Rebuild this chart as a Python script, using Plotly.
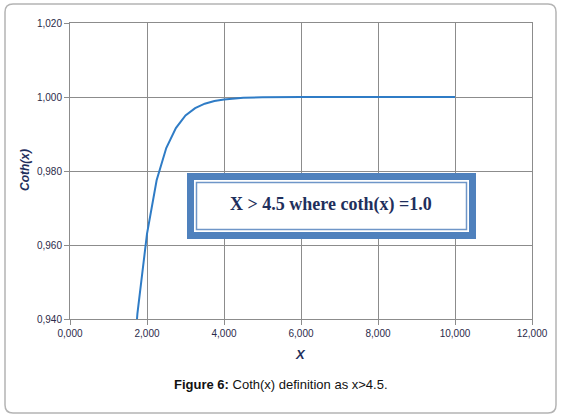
import plotly.graph_objects as go

# data
x_vals = [1.5, 1.75, 2.0, 2.25, 2.5, 2.75, 3.0, 3.25, 3.5, 3.75, 4.0, 4.5, 5.0, 5.5, 6.0, 7.0, 8.0, 9.0, 10.0]
y_vals = [0.905, 0.9414, 0.9630, 0.9775, 0.9862, 0.9916, 0.9950, 0.9970, 0.9982, 0.9989, 0.9993, 0.9998, 0.9999, 1.0, 1.0, 1.0, 1.0, 1.0, 1.0]
x_ticks = [0, 2, 4, 6, 8, 10, 12]
x_ticktext = ["0,000", "2,000", "4,000", "6,000", "8,000", "10,000", "12,000"]
y_ticks = [0.94, 0.96, 0.98, 1.00, 1.02]
y_ticktext = ["0,940", "0,960", "0,980", "1,000", "1,020"]

W, H = 561, 419
L, R, T, B = 70, 532, 23, 319


def px(x):
    return (x - L) / (R - L)


def py(y):
    return (B - y) / (B - T)


fig = go.Figure()
fig.add_trace(go.Scatter(x=x_vals, y=y_vals, mode="lines",
                         line=dict(color="#2f7cc6", width=2), showlegend=False))

tickfont = dict(family="Liberation Sans Narrow, Arial Narrow, sans-serif", size=10, color="#2b2a4a")
fig.update_xaxes(range=[0, 12], tickvals=x_ticks, ticktext=x_ticktext, showgrid=True,
                 gridcolor="#8c8c8c", gridwidth=1, showline=True, linecolor="#8c8c8c", mirror=True,
                 ticks="outside", ticklen=5, tickcolor="#8c8c8c", tickfont=tickfont,
                 zeroline=False)
fig.update_yaxes(range=[0.94, 1.02], tickvals=y_ticks, ticktext=y_ticktext, showgrid=True,
                 gridcolor="#8c8c8c", gridwidth=1, showline=True, linecolor="#8c8c8c", mirror=True,
                 ticks="outside", ticklen=5, tickcolor="#8c8c8c", tickfont=tickfont,
                 zeroline=False)

shapes = []
# outer rounded frame
x0, y0, x1, y1, r = 5, 4, 556, 413, 8
path = (f"M {px(x0 + r)} {py(y0)} L {px(x1 - r)} {py(y0)} Q {px(x1)} {py(y0)} {px(x1)} {py(y0 + r)} "
        f"L {px(x1)} {py(y1 - r)} Q {px(x1)} {py(y1)} {px(x1 - r)} {py(y1)} "
        f"L {px(x0 + r)} {py(y1)} Q {px(x0)} {py(y1)} {px(x0)} {py(y1 - r)} "
        f"L {px(x0)} {py(y0 + r)} Q {px(x0)} {py(y0)} {px(x0 + r)} {py(y0)} Z")
shapes.append(dict(type="path", xref="paper", yref="paper", path=path,
                   line=dict(color="#b4b4b4", width=1.5), layer="below"))
# annotation box
bx0, by0, bx1, by1 = 187, 173, 476, 239
shapes.append(dict(type="rect", xref="paper", yref="paper", x0=px(bx0), x1=px(bx1), y0=py(by0), y1=py(by1),
                   fillcolor="#4f81bd", line=dict(width=0), layer="above"))
shapes.append(dict(type="rect", xref="paper", yref="paper", x0=px(bx0 + 7), x1=px(bx1 - 7), y0=py(by0 + 7), y1=py(by1 - 7),
                   fillcolor="#ffffff", line=dict(width=0), layer="above"))
shapes.append(dict(type="rect", xref="paper", yref="paper", x0=px(bx0 + 9.5), x1=px(bx1 - 9.5), y0=py(by0 + 9.5), y1=py(by1 - 9.5),
                   fillcolor="#ffffff", line=dict(color="#6f96c8", width=1.5), layer="above"))

annotations = [
    dict(x=px(331), y=py(204), xref="paper", yref="paper", text="<b>X &gt; 4.5 where coth(x) =1.0</b>",
         xanchor="center", yanchor="middle",
         showarrow=False, font=dict(family="Liberation Serif, Times New Roman, serif", size=18, color="#1f2f5c")),
    dict(x=px(300), y=py(354), xref="paper", yref="paper", text="<b><i>X</i></b>",
         xanchor="center", yanchor="middle",
         showarrow=False, font=dict(family="Liberation Sans Narrow, Arial, sans-serif", size=13, color="#1f2f5c")),
    dict(x=px(25), y=py(170), xref="paper", yref="paper", text="<b><i>Coth(x)</i></b>", textangle=-90,
         xanchor="center", yanchor="middle",
         showarrow=False, font=dict(family="Liberation Sans, Arial, sans-serif", size=12, color="#1f2f5c")),
    dict(x=px(281), y=py(384), xref="paper", yref="paper", text="<b>Figure 6:</b> Coth(x) definition as x>4.5.",
         xanchor="center", yanchor="middle",
         showarrow=False, font=dict(family="Liberation Sans, Arial, sans-serif", size=13, color="#111111")),
]

fig.update_layout(width=W, height=H, margin=dict(l=L, r=W - R, t=T, b=H - B),
                  paper_bgcolor="white", plot_bgcolor="white",
                  shapes=shapes, annotations=annotations, showlegend=False)

fig.write_html("out.html", config={"displayModeBar": False},
               post_script="document.body.style.margin='0';document.body.style.padding='0';")
